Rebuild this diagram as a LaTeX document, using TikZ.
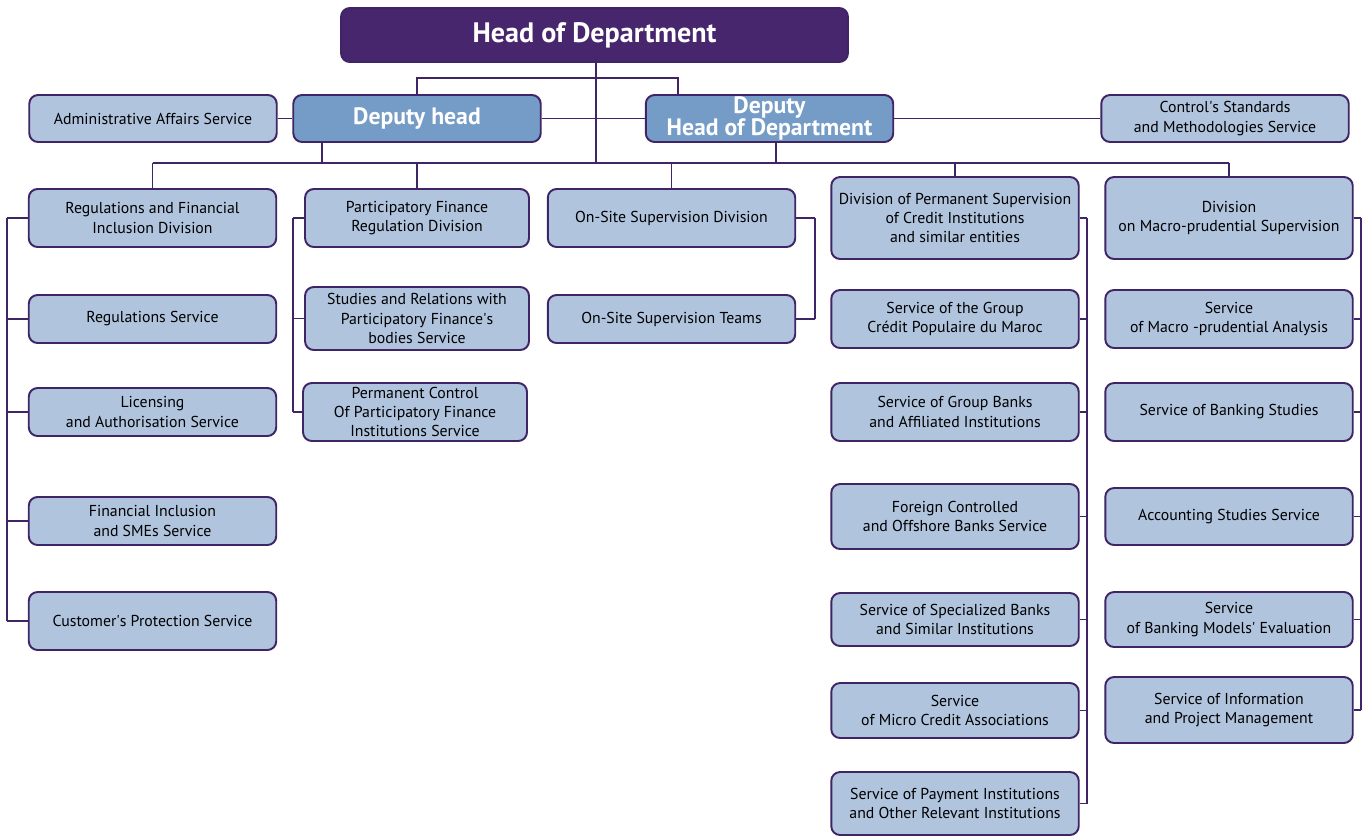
\documentclass[tikz,border=0pt]{standalone}
\usepackage{fontspec}
\setmainfont{PT Sans}
\usepackage{tikz}
\usetikzlibrary{positioning}
\usepackage{xcolor}

\definecolor{headpurple}{HTML}{48266E}
\definecolor{linepurple}{HTML}{3F2466}
\definecolor{deputyblue}{HTML}{759CC6}
\definecolor{boxblue}{HTML}{B0C4DE}

\tikzset{
    svc/.style={draw=linepurple, line width=1.1pt, fill=boxblue, rounded corners=5pt,
        align=center, inner sep=0pt, font=\fontsize{9}{11}\selectfont},
    wide/.style={minimum width=4.95cm},
    narrow/.style={minimum width=4.48cm},
    deputy/.style={svc, fill=deputyblue, text=white, minimum width=4.95cm, minimum height=0.94cm,
        font=\fontsize{13.5}{12.5}\selectfont\bfseries},
    link/.style={draw=linepurple, line width=1.1pt}
}

\begin{document}
\begin{tikzpicture}[x=0.02cm, y=-0.02cm]
    \useasboundingbox (0,0) rectangle (1364,836);

    % top level
    \node[svc, fill=headpurple, text=white, minimum width=10.14cm, minimum height=1.08cm,
        font=\fontsize{16}{16}\selectfont\bfseries] (head) at (594.5,35) {Head of Department};
    \node[svc, wide, minimum height=0.94cm] (admin) at (153,118.5) {Administrative Affairs Service};
    \node[deputy] (dephead) at (417,118.5) {Deputy head};
    \node[deputy] (dephod) at (769.5,118.5) {Deputy\\Head of Department};
    \node[svc, wide, minimum height=0.94cm] (ctrl) at (1225,118.5) {Control\textquotesingle s Standards\\and Methodologies Service};

    % first column
    \node[svc, wide, minimum height=1.16cm] (rfid) at (152.5,218) {Regulations and Financial\\Inclusion Division};
    \node[svc, wide, minimum height=0.96cm] (regs) at (152.5,319) {Regulations Service};
    \node[svc, wide, minimum height=0.96cm] (lic) at (152.5,412) {Licensing\\and Authorisation Service};
    \node[svc, wide, minimum height=0.96cm] (fin) at (152.5,521) {Financial Inclusion\\and SMEs Service};
    \node[svc, wide, minimum height=1.16cm] (cust) at (152.5,621) {Customer\textquotesingle s Protection Service};

    % second column
    \node[svc, narrow, minimum height=1.16cm] (pfrd) at (417,218) {Participatory Finance\\Regulation Division};
    \node[svc, narrow, minimum height=1.26cm] (stud) at (417,318.5) {Studies and Relations with\\Participatory Finance\textquotesingle s\\bodies Service};
    \node[svc, narrow, minimum height=1.16cm] (perm) at (415,412) {Permanent Control\\Of Participatory Finance\\Institutions Service};

    % third column
    \node[svc, wide, minimum height=1.16cm] (osd) at (671.5,218) {On-Site Supervision Division};
    \node[svc, wide, minimum height=0.96cm] (ost) at (671.5,319) {On-Site Supervision Teams};

    % fourth column
    \node[svc, wide, minimum height=1.64cm] (dps) at (955,218) {Division of Permanent Supervision\\of Credit Institutions\\and similar entities};
    \node[svc, wide, minimum height=1.16cm] (cpm) at (955,319) {Service of the Group\\Crédit Populaire du Maroc};
    \node[svc, wide, minimum height=1.16cm] (gba) at (955,412) {Service of Group Banks\\and Affiliated Institutions};
    \node[svc, wide, minimum height=1.30cm] (fcb) at (955,516.5) {Foreign Controlled\\and Offshore Banks Service};
    \node[svc, wide, minimum height=1.06cm] (spb) at (955,619.5) {Service of Specialized Banks\\and Similar Institutions};
    \node[svc, wide, minimum height=1.10cm] (mca) at (955,710.5) {Service\\of Micro Credit Associations};
    \node[svc, wide, minimum height=1.26cm] (pay) at (955,803.5) {Service of Payment Institutions\\and Other Relevant Institutions};

    % fifth column
    \node[svc, wide, minimum height=1.64cm] (macro) at (1229,218) {Division\\on Macro-prudential Supervision};
    \node[svc, wide, minimum height=1.16cm] (mpa) at (1229,319) {Service\\of Macro -prudential Analysis};
    \node[svc, wide, minimum height=1.16cm] (bks) at (1229,412) {Service of Banking Studies};
    \node[svc, wide, minimum height=1.14cm] (acc) at (1229,516.5) {Accounting Studies Service};
    \node[svc, wide, minimum height=1.10cm] (bme) at (1229,619.5) {Service\\of Banking Models\textquotesingle\ Evaluation};
    \node[svc, wide, minimum height=1.32cm] (info) at (1229,710) {Service of Information\\and Project Management};

    % helper coordinates
    \coordinate (top) at (678,78);
    \coordinate (bus) at (0,163);
    \coordinate (railA) at (7,0);
    \coordinate (railB) at (293,0);
    \coordinate (railC) at (815,0);
    \coordinate (railD) at (1087,0);
    \coordinate (railE) at (1361,0);

    % connectors at the top
    \draw[link] ([xshift=0.03cm]head.south) -- ([xshift=0.03cm]head.south |- bus);
    \draw[link] (dephead.north) |- (top) -- (top |- dephod.north);
    \draw[link] (admin.east) -- (dephead.west);
    \draw[link] (dephead.east) -- (dephod.west);
    \draw[link] (dephod.east) -- (ctrl.west);
    \draw[link] ([xshift=-1.9cm]dephead.south) -- ([xshift=-1.9cm]dephead.south |- bus);
    \draw[link] ([xshift=0.13cm]dephod.south) -- ([xshift=0.13cm]dephod.south |- bus);

    % main bus and drops
    \draw[link] (rfid.north |- bus) -- (macro.north |- bus);
    \foreach \n in {rfid, pfrd, osd, dps, macro}
        \draw[link] (\n.north) -- (\n.north |- bus);

    % side rails
    \draw[link] (railA |- rfid.west) -- (railA |- cust.west);
    \foreach \n in {rfid, regs, lic, fin, cust}
        \draw[link] (\n.west) -- (\n.west -| railA);
    \draw[link] (railB |- pfrd.west) -- (railB |- perm.west);
    \foreach \n in {pfrd, stud, perm}
        \draw[link] (\n.west) -- (\n.west -| railB);
    \draw[link] (railC |- osd.east) -- (railC |- ost.east);
    \foreach \n in {osd, ost}
        \draw[link] (\n.east) -- (\n.east -| railC);
    \draw[link] (railD |- dps.east) -- (railD |- pay.east);
    \foreach \n in {dps, cpm, gba, fcb, spb, mca, pay}
        \draw[link] (\n.east) -- (\n.east -| railD);
    \draw[link] (railE |- macro.east) -- (railE |- info.east);
    \foreach \n in {macro, mpa, bks, acc, bme, info}
        \draw[link] (\n.east) -- (\n.east -| railE);
\end{tikzpicture}
\end{document}
